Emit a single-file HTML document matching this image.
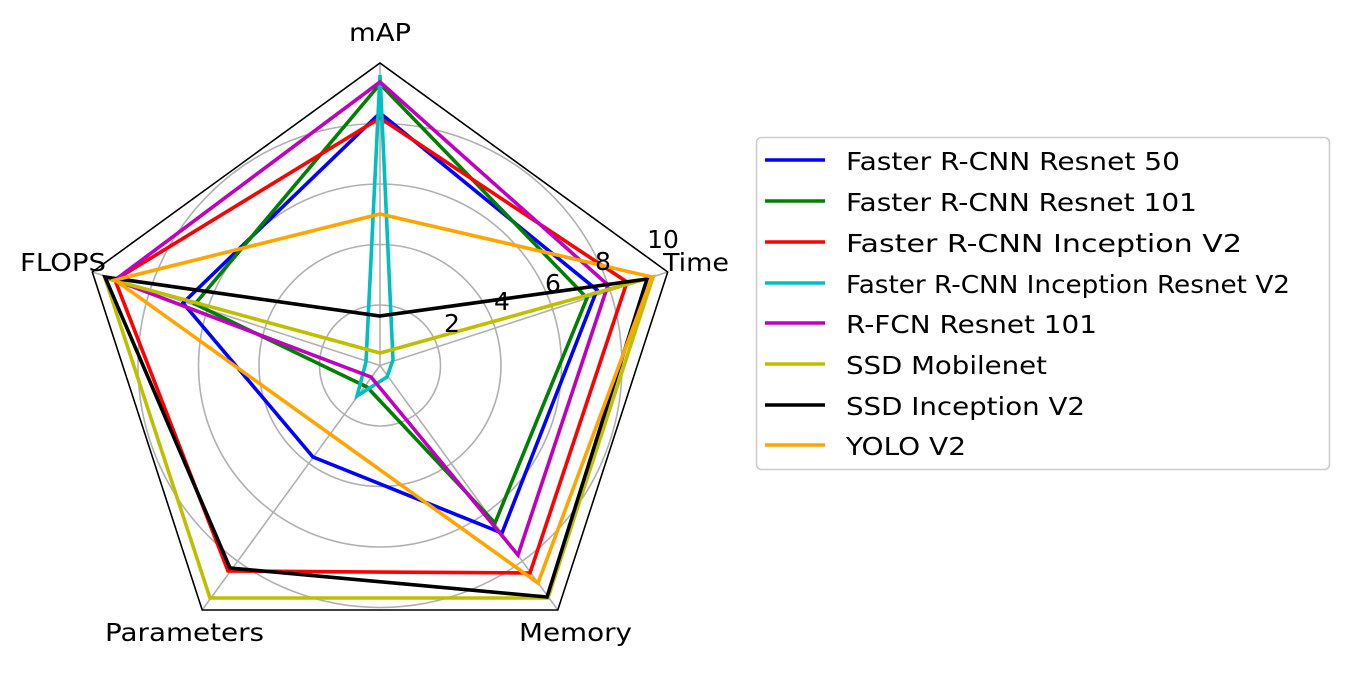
<!DOCTYPE html>
<html><head><meta charset="utf-8"><style>
html,body{margin:0;padding:0;background:#fff;}
svg{display:block;font-family:"DejaVu Sans","Liberation Sans",sans-serif;}
</style></head><body>
<svg width="1352" height="698" viewBox="0 0 1352 698" xmlns="http://www.w3.org/2000/svg">
<g fill="none" stroke="#b0b0b0" stroke-width="1.6">
<circle cx="380" cy="365.5" r="60.5"/>
<circle cx="380" cy="365.5" r="121"/>
<circle cx="380" cy="365.5" r="181.5"/>
<circle cx="380" cy="365.5" r="242"/>
<line x1="380" y1="365.5" x2="380" y2="63"/>
<line x1="380" y1="365.5" x2="667.7" y2="272"/>
<line x1="380" y1="365.5" x2="557.8" y2="610"/>
<line x1="380" y1="365.5" x2="202.2" y2="610"/>
<line x1="380" y1="365.5" x2="92.3" y2="272"/>
</g>
<polygon points="380,63 667.7,272 557.8,610 202.2,610 92.3,272" fill="none" stroke="#000" stroke-width="1.6"/>
<g fill="none" stroke-width="3.6" stroke-linejoin="miter">
<polygon stroke="#0000ff" points="380,113 597,290 502,533 313,457 183,303"/>
<polygon stroke="#008000" points="380,84 587,298 495,523 367,387 195,304"/>
<polygon stroke="#ff0000" points="380,118 627,282 530,573 228,571 115,280"/>
<polygon stroke="#00bfbf" points="380,75 393,360 387,377 357,396 366,362"/>
<polygon stroke="#bf00bf" points="380,82 608,285 518,555 371,377 115,280"/>
<polygon stroke="#bfbf00" points="380,353 653,277 548,598 210,598 105,278"/>
<polygon stroke="#000000" points="380,316 647,279 547,597 230,568 105,277"/>
<polygon stroke="#ffa500" points="380,214 652,277 538,583 330,434 115,280"/>
</g>
<g font-size="25" fill="#000">
<text x="349" y="41" textLength="62" lengthAdjust="spacingAndGlyphs">mAP</text>
<text x="663" y="271" textLength="66" lengthAdjust="spacingAndGlyphs">Time</text>
<text x="519" y="641" textLength="113" lengthAdjust="spacingAndGlyphs">Memory</text>
<text x="105" y="641" textLength="159" lengthAdjust="spacingAndGlyphs">Parameters</text>
<text x="20" y="271" textLength="86" lengthAdjust="spacingAndGlyphs">FLOPS</text>
</g>
<g font-size="25" fill="#000" text-anchor="middle">
<text x="452" y="332">2</text>
<text x="502" y="310">4</text>
<text x="553" y="292">6</text>
<text x="603" y="270">8</text>
<text x="663" y="248">10</text>
</g>
<rect x="756.5" y="137.5" width="573" height="332" rx="5" fill="#fff" stroke="#cccccc" stroke-width="1.6"/>
<g stroke-width="3.6">
<line x1="765" y1="160" x2="825" y2="160" stroke="#0000ff"/>
<line x1="765" y1="201" x2="825" y2="201" stroke="#008000"/>
<line x1="765" y1="242" x2="825" y2="242" stroke="#ff0000"/>
<line x1="765" y1="283" x2="825" y2="283" stroke="#00bfbf"/>
<line x1="765" y1="323" x2="825" y2="323" stroke="#bf00bf"/>
<line x1="765" y1="364" x2="825" y2="364" stroke="#bfbf00"/>
<line x1="765" y1="405" x2="825" y2="405" stroke="#000000"/>
<line x1="765" y1="445" x2="825" y2="445" stroke="#ffa500"/>
</g>
<g font-size="25" fill="#000" lengthAdjust="spacingAndGlyphs">
<text x="846" y="170" textLength="334" lengthAdjust="spacingAndGlyphs">Faster R-CNN Resnet 50</text>
<text x="846" y="211" textLength="351" lengthAdjust="spacingAndGlyphs">Faster R-CNN Resnet 101</text>
<text x="846" y="252" textLength="396" lengthAdjust="spacingAndGlyphs">Faster R-CNN Inception V2</text>
<text x="846" y="293" textLength="444" lengthAdjust="spacingAndGlyphs">Faster R-CNN Inception Resnet V2</text>
<text x="846" y="333" textLength="251" lengthAdjust="spacingAndGlyphs">R-FCN Resnet 101</text>
<text x="846" y="374" textLength="201" lengthAdjust="spacingAndGlyphs">SSD Mobilenet</text>
<text x="846" y="415" textLength="239" lengthAdjust="spacingAndGlyphs">SSD Inception V2</text>
<text x="846" y="455" textLength="120" lengthAdjust="spacingAndGlyphs">YOLO V2</text>
</g>
</svg>
</body></html>
